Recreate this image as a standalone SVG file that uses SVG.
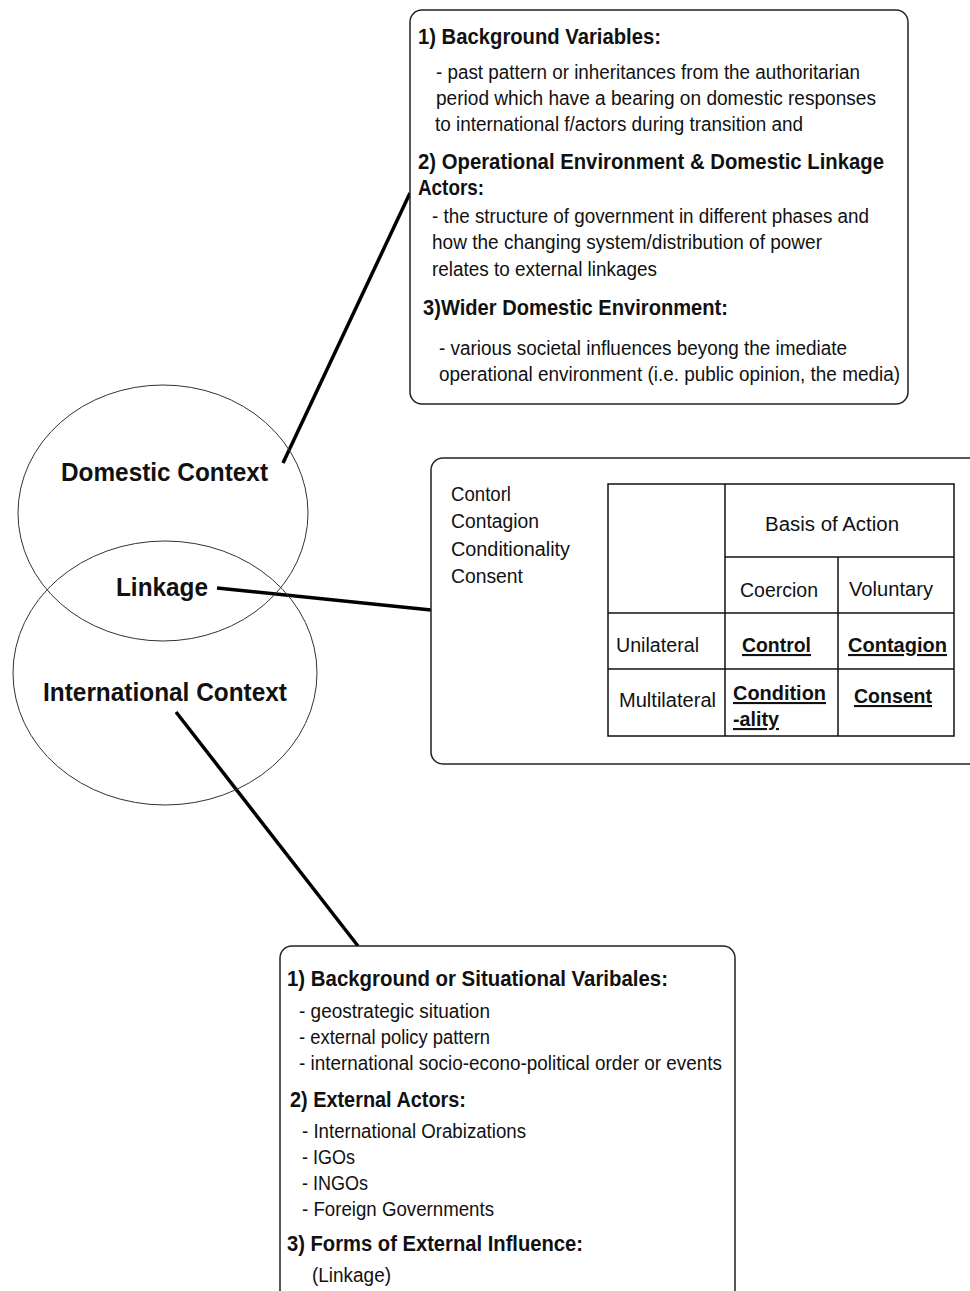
<svg xmlns="http://www.w3.org/2000/svg" width="970" height="1291" viewBox="0 0 970 1291">
<style>
text{font-family:"Liberation Sans",Arial,sans-serif;fill:#111;}
.h{font-size:22px;font-weight:bold;}
.b{font-size:20px;}
.c{font-size:26px;font-weight:bold;}
.u{font-size:21px;font-weight:bold;text-decoration:underline;}
.box{fill:#fff;stroke:#222;stroke-width:1.5;}
.ell{fill:none;stroke:#333;stroke-width:1;}
.con{stroke:#000;stroke-width:3.5;fill:none;}
.tb{stroke:#111;stroke-width:1.5;fill:none;}
</style>
<rect width="970" height="1291" fill="#fff"/>
<g id="connectors">
<line class="con" x1="283" y1="463" x2="410" y2="193"/>
<line class="con" x1="217" y1="588" x2="431" y2="610"/>
<line class="con" x1="176" y1="712" x2="358" y2="946"/>
</g>
<g id="circles">
<ellipse class="ell" cx="163" cy="513" rx="145" ry="128"/>
<ellipse class="ell" cx="165" cy="673" rx="152" ry="132"/>
<text class="c" x="61" y="481" textLength="207" lengthAdjust="spacingAndGlyphs">Domestic Context</text>
<text class="c" x="116" y="596" textLength="92" lengthAdjust="spacingAndGlyphs">Linkage</text>
<text class="c" x="43" y="701" textLength="244" lengthAdjust="spacingAndGlyphs">International Context</text>
</g>
<g id="domestic-box">
<rect class="box" x="410" y="10" width="498" height="394" rx="12"/>
<text class="h" x="418" y="44" textLength="243" lengthAdjust="spacingAndGlyphs">1) Background Variables:</text>
<text class="b" x="436" y="79" textLength="424" lengthAdjust="spacingAndGlyphs">- past pattern or inheritances from the authoritarian</text>
<text class="b" x="436" y="105" textLength="440" lengthAdjust="spacingAndGlyphs">period which have a bearing on domestic responses</text>
<text class="b" x="435" y="131" textLength="368" lengthAdjust="spacingAndGlyphs">to international f/actors during transition and</text>
<text class="h" x="418" y="169" textLength="466" lengthAdjust="spacingAndGlyphs">2) Operational Environment &amp; Domestic Linkage</text>
<text class="h" x="418" y="195" textLength="66" lengthAdjust="spacingAndGlyphs">Actors:</text>
<text class="b" x="432" y="223" textLength="437" lengthAdjust="spacingAndGlyphs">- the structure of government in different phases and</text>
<text class="b" x="432" y="249" textLength="390" lengthAdjust="spacingAndGlyphs">how the changing system/distribution of power</text>
<text class="b" x="432" y="276" textLength="225" lengthAdjust="spacingAndGlyphs">relates to external linkages</text>
<text class="h" x="423" y="315" textLength="305" lengthAdjust="spacingAndGlyphs">3)Wider Domestic Environment:</text>
<text class="b" x="439" y="355" textLength="408" lengthAdjust="spacingAndGlyphs">- various societal influences beyong the imediate</text>
<text class="b" x="439" y="381" textLength="461" lengthAdjust="spacingAndGlyphs">operational environment (i.e. public opinion, the media)</text>
</g>
<g id="linkage-box">
<rect class="box" x="431" y="458" width="570" height="306" rx="12"/>
<text class="b" x="451" y="501" textLength="60" lengthAdjust="spacingAndGlyphs">Contorl</text>
<text class="b" x="451" y="528" textLength="88" lengthAdjust="spacingAndGlyphs">Contagion</text>
<text class="b" x="451" y="556" textLength="119" lengthAdjust="spacingAndGlyphs">Conditionality</text>
<text class="b" x="451" y="583" textLength="72" lengthAdjust="spacingAndGlyphs">Consent</text>
<g id="table">
<rect class="tb" x="608" y="484" width="346" height="252"/>
<line class="tb" x1="725" y1="484" x2="725" y2="736"/>
<line class="tb" x1="838" y1="557" x2="838" y2="736"/>
<line class="tb" x1="725" y1="557" x2="954" y2="557"/>
<line class="tb" x1="608" y1="613" x2="954" y2="613"/>
<line class="tb" x1="608" y1="669" x2="954" y2="669"/>
<text class="b" x="765" y="531" textLength="134" lengthAdjust="spacingAndGlyphs">Basis of Action</text>
<text class="b" x="740" y="597" textLength="78" lengthAdjust="spacingAndGlyphs">Coercion</text>
<text class="b" x="849" y="596" textLength="84" lengthAdjust="spacingAndGlyphs">Voluntary</text>
<text class="b" x="616" y="652" textLength="83" lengthAdjust="spacingAndGlyphs">Unilateral</text>
<text class="u" x="742" y="652" textLength="69" lengthAdjust="spacingAndGlyphs">Control</text>
<text class="u" x="848" y="652" textLength="99" lengthAdjust="spacingAndGlyphs">Contagion</text>
<text class="b" x="619" y="707" textLength="97" lengthAdjust="spacingAndGlyphs">Multilateral</text>
<text class="u" x="733" y="700" textLength="93" lengthAdjust="spacingAndGlyphs">Condition</text>
<text class="u" x="733" y="726" textLength="46" lengthAdjust="spacingAndGlyphs">-ality</text>
<text class="u" x="854" y="703" textLength="78" lengthAdjust="spacingAndGlyphs">Consent</text>
</g>
</g>
<g id="international-box">
<rect class="box" x="280" y="946" width="455" height="370" rx="12"/>
<text class="h" x="287" y="986" textLength="381" lengthAdjust="spacingAndGlyphs">1) Background or Situational Varibales:</text>
<text class="b" x="299" y="1018" textLength="191" lengthAdjust="spacingAndGlyphs">- geostrategic situation</text>
<text class="b" x="299" y="1044" textLength="191" lengthAdjust="spacingAndGlyphs">- external policy pattern</text>
<text class="b" x="299" y="1070" textLength="423" lengthAdjust="spacingAndGlyphs">- international socio-econo-political order or events</text>
<text class="h" x="290" y="1107" textLength="176" lengthAdjust="spacingAndGlyphs">2) External Actors:</text>
<text class="b" x="302" y="1138" textLength="224" lengthAdjust="spacingAndGlyphs">- International Orabizations</text>
<text class="b" x="302" y="1164" textLength="53" lengthAdjust="spacingAndGlyphs">- IGOs</text>
<text class="b" x="302" y="1190" textLength="66" lengthAdjust="spacingAndGlyphs">- INGOs</text>
<text class="b" x="302" y="1216" textLength="192" lengthAdjust="spacingAndGlyphs">- Foreign Governments</text>
<text class="h" x="287" y="1251" textLength="296" lengthAdjust="spacingAndGlyphs">3) Forms of External Influence:</text>
<text class="b" x="312" y="1282" textLength="79" lengthAdjust="spacingAndGlyphs">(Linkage)</text>
</g>
</svg>
